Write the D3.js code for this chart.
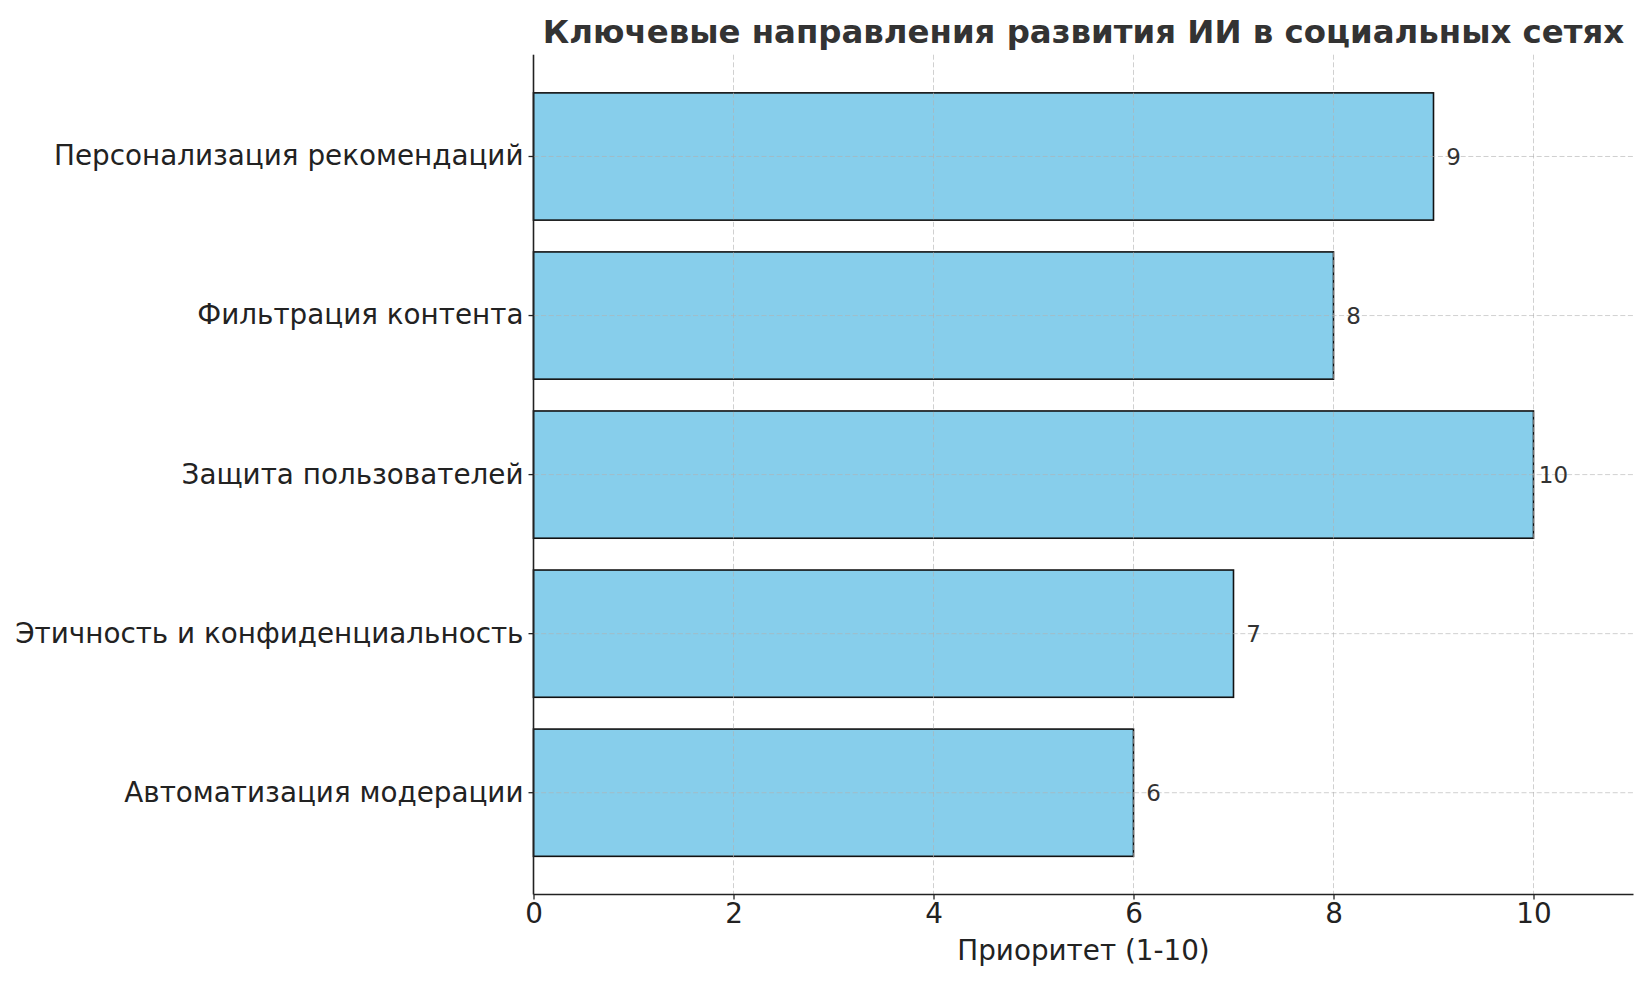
<!DOCTYPE html>
<html>
<head>
<meta charset="utf-8">
<script src="https://cdn.jsdelivr.net/npm/d3@7"></script>
<style>
  html, body { margin: 0; padding: 0; background: #fff; }
  svg { display: block; font-family: "DejaVu Sans", sans-serif; }
</style>
</head>
<body>
<svg id="chart" width="1650" height="983"></svg>
<script>
const categories = [
  "Персонализация рекомендаций",
  "Фильтрация контента",
  "Защита пользователей",
  "Этичность и конфиденциальность",
  "Автоматизация модерации"
];
const values = [9, 8, 10, 7, 6];
const xTicks = [0, 2, 4, 6, 8, 10];
const titleText = "Ключевые направления развития ИИ в социальных сетях";
const xLabelText = "Приоритет (1-10)";

const W = 1650, H = 983;
const margin = { left: 533.5, right: 16.5, top: 54.7, bottom: 88.5 };
const svg = d3.select("#chart");

const x = d3.scaleLinear().domain([0, 11]).range([margin.left, W - margin.right]);
const y = d3.scaleBand().domain(categories)
  .range([margin.top, H - margin.bottom])
  .paddingInner(0.2).paddingOuter(0.24);

const data = categories.map((c, i) => ({ c, v: values[i] }));

// bars
svg.append("g").selectAll("rect").data(data).enter().append("rect")
  .attr("x", x(0))
  .attr("y", d => y(d.c))
  .attr("width", d => x(d.v) - x(0))
  .attr("height", y.bandwidth())
  .attr("fill", "#87ceeb")
  .attr("stroke", "#111")
  .attr("stroke-width", 1.6);

// grid (drawn over bars, semi-transparent)
const grid = svg.append("g").attr("stroke", "#b0b0b0").attr("stroke-opacity", 0.6)
  .attr("stroke-width", 1).attr("stroke-dasharray", "5,2.6");
grid.selectAll("line.v").data(xTicks).enter().append("line")
  .attr("x1", d => x(d)).attr("x2", d => x(d))
  .attr("y1", margin.top).attr("y2", H - margin.bottom);
grid.selectAll("line.h").data(categories).enter().append("line")
  .attr("x1", margin.left).attr("x2", W - margin.right)
  .attr("y1", d => y(d) + y.bandwidth() / 2).attr("y2", d => y(d) + y.bandwidth() / 2);

// axes
const xAxis = d3.axisBottom(x).tickValues(xTicks).tickSize(5).tickPadding(4).tickFormat(d3.format("d"));
const gx = svg.append("g").attr("transform", `translate(0,${H - margin.bottom})`).call(xAxis);
gx.select(".domain").remove();
gx.selectAll(".tick line").attr("stroke", "#222").attr("stroke-width", 1.3);
gx.selectAll(".tick text").attr("fill", "#222").style("font-size", "27.8px").style("font-family", "DejaVu Sans");
svg.append("line").attr("x1", margin.left).attr("x2", W - margin.right)
  .attr("y1", H - margin.bottom).attr("y2", H - margin.bottom)
  .attr("stroke", "#222").attr("stroke-width", 1.6);

const yAxis = d3.axisLeft(y).tickSize(5).tickPadding(5);
const gy = svg.append("g").attr("transform", `translate(${margin.left},0)`).call(yAxis);
gy.select(".domain").remove();
gy.selectAll(".tick line").attr("stroke", "#222").attr("stroke-width", 1.3);
gy.selectAll(".tick text").attr("fill", "#222").style("font-size", "27.8px").style("font-family", "DejaVu Sans");
svg.append("line").attr("x1", margin.left).attr("x2", margin.left)
  .attr("y1", margin.top).attr("y2", H - margin.bottom)
  .attr("stroke", "#222").attr("stroke-width", 1.6);

// value labels
svg.append("g").selectAll("text").data(data).enter().append("text")
  .attr("x", d => x(d.v + 0.2))
  .attr("y", d => y(d.c) + y.bandwidth() / 2)
  .attr("dy", "0.35em")
  .attr("text-anchor", "middle")
  .attr("fill", "#333")
  .style("font-size", "23px")
  .text(d => d.v);

// title
svg.append("text")
  .attr("x", (margin.left + W - margin.right) / 2)
  .attr("y", 31.5).attr("dy", "0.35em")
  .attr("text-anchor", "middle")
  .attr("fill", "#333")
  .style("font-size", "32.4px").style("font-weight", "bold")
  .text(titleText);

// x label
svg.append("text")
  .attr("x", (margin.left + W - margin.right) / 2)
  .attr("y", 950).attr("dy", "0.35em")
  .attr("text-anchor", "middle")
  .attr("fill", "#222")
  .style("font-size", "27.8px")
  .text(xLabelText);
</script>
</body>
</html>
